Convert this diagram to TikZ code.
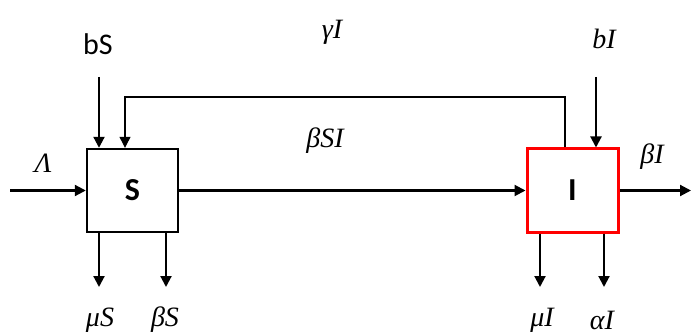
\documentclass[tikz,border=0pt]{standalone}
\usepackage{fontspec}
\setsansfont{Carlito}
\newfontfamily\lser{Liberation Serif}
\usetikzlibrary{arrows.meta}
\begin{document}
\begin{tikzpicture}[x=1pt,y=-1pt,
  box/.style={draw,line width=2.4pt,minimum width=91pt,minimum height=83pt,inner sep=0pt,font=\sffamily\bfseries\fontsize{32}{34}\selectfont},
  arr/.style={line width=2.1pt,-{Triangle[length=11pt,width=11pt]}},
  thinarr/.style={line width=1.2pt,-{Triangle[length=11pt,width=11pt]}},
  lab/.style={inner sep=0pt,font=\lser\itshape\fontsize{28}{30}\selectfont},
  slab/.style={inner sep=0pt,font=\sffamily\fontsize{30}{32}\selectfont}]
\useasboundingbox (0,0) rectangle (691,334);
\node[box] (S) at (132.5,190.5) {S};
\node[box,draw=red,line width=3pt] (I) at (572.5,190.5) {I};
% inflows
\coordinate (lamstart) at (10,190.5);
\draw[arr] (lamstart) -- (S.west);
\node[lab] (lam) at (43,163) {Λ};
\coordinate (bSs) at (99,77);
\draw[arr] (bSs) -- (bSs |- S.north);
\node[slab] (bS) at (98,44) {bS};
\coordinate (bIs) at (596,77);
\draw[arr] (bIs) -- (bIs |- I.north);
\node[lab] (bI) at (604,39) {bI};
% feedback
\coordinate (fbx) at (565,97);
\coordinate (fbtop) at (125,97);
\draw[thinarr] (fbx |- I.north) -- (fbx) -- (fbtop) -- (fbtop |- S.north);
\node[lab] (gI) at (332,32) {γI};
% main transfer
\draw[arr] (S.east) -- (I.west);
\node[lab] (bSI) at (325,141) {βSI};
% out of I
\coordinate (outend) at (691,190.5);
\draw[arr] (I.east) -- (outend);
\node[lab] (bIo) at (652,157) {βI};
% down flows
\coordinate (d1) at (99,287);
\coordinate (d2) at (166,287);
\coordinate (d3) at (540,287);
\coordinate (d4) at (604,287);
\draw[arr] (d1 |- S.south) -- (d1);
\draw[arr] (d2 |- S.south) -- (d2);
\draw[arr] (d3 |- I.south) -- (d3);
\draw[arr] (d4 |- I.south) -- (d4);
\node[lab] (muS) at (100,320) {μS};
\node[lab] (beS) at (165,320) {βS};
\node[lab] (muI) at (542,320) {μI};
\node[lab] (alI) at (602,320) {αI};
\end{tikzpicture}
\end{document}
